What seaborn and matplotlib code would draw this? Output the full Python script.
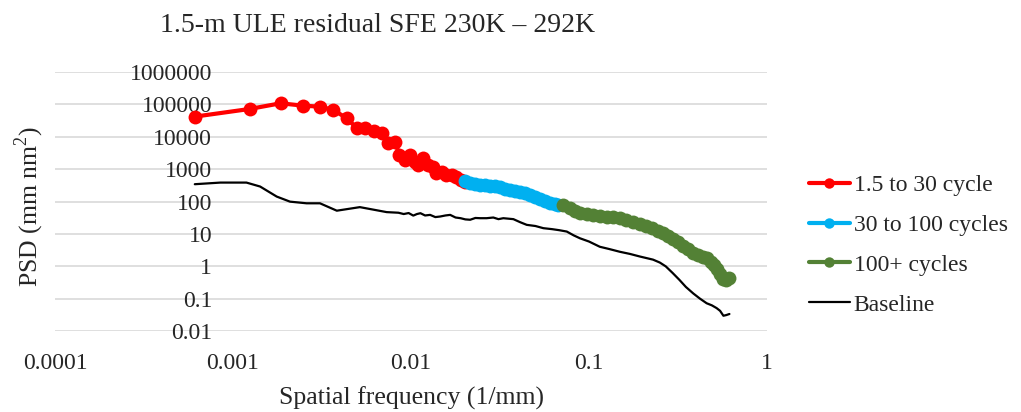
import numpy as np
import pandas as pd
import seaborn as sns
import matplotlib.pyplot as plt
from matplotlib.ticker import FixedLocator, NullLocator

# values (frequency in 1/mm, PSD in mm nm^2)
red_freq = [0.00061, 0.00124, 0.00185, 0.00248, 0.00308, 0.00366, 0.00436, 0.00496,
            0.00552, 0.0062, 0.00685, 0.00746, 0.00813, 0.0086, 0.00925, 0.00987,
            0.0105, 0.011, 0.0117, 0.0125, 0.0133, 0.0139, 0.0149, 0.0158, 0.0169,
            0.018, 0.0192, 0.0201]
red_psd = [41800, 72100, 108000, 91200, 85000, 67100, 37200, 18300,
           18300, 15500, 12800, 6300, 7100, 2750, 1920, 2750,
           1700, 1350, 2170, 1350, 1200, 750, 830, 660, 660,
           590, 465, 400]

blue_freq = [0.0201, 0.0214, 0.0229, 0.0244, 0.0261, 0.0278, 0.0296, 0.0316, 0.0337,
             0.036, 0.0384, 0.0409, 0.0437, 0.0467, 0.0498, 0.0531, 0.0566, 0.0604,
             0.0645, 0.067]
blue_psd = [417, 375, 349, 325, 314, 303, 292, 272, 245,
            220, 205, 191, 178, 160, 139, 120, 104, 90.6,
            81.3, 75.8]

green_freq = [0.0715, 0.0781, 0.0833, 0.0889, 0.0975, 0.105, 0.115, 0.126, 0.136,
              0.149, 0.161, 0.177, 0.194, 0.209, 0.226, 0.244, 0.261, 0.278, 0.296,
              0.316, 0.337, 0.36, 0.384, 0.409, 0.436, 0.46, 0.484, 0.504, 0.524,
              0.545, 0.566, 0.589, 0.612]
green_psd = [78.5, 63.4, 51.3, 44.5, 40, 37.2, 34.7, 33.5, 32.3,
             30.1, 27, 23.4, 20.4, 17.7, 15.3, 12.4, 10.4, 8.4, 6.8,
             5.5, 4.3, 3.3, 2.6, 2.2, 1.95, 1.75, 1.37, 1.07, 0.83,
             0.58, 0.41, 0.38, 0.44]

base_freq = [0.00061, 0.00085, 0.00119, 0.00142, 0.00176, 0.00209, 0.00259, 0.00308,
             0.00383, 0.00516, 0.0073, 0.0085, 0.0091, 0.0097, 0.0103, 0.0108, 0.0113,
             0.0120, 0.0128, 0.0137, 0.0146, 0.0156, 0.0166, 0.0178, 0.019, 0.0202,
             0.0215, 0.0230, 0.0245, 0.0266, 0.029, 0.031, 0.033, 0.0376, 0.041,
             0.0447, 0.050, 0.0554, 0.062, 0.068, 0.075, 0.082, 0.089, 0.100, 0.115,
             0.130, 0.149, 0.170, 0.193, 0.229, 0.25, 0.27, 0.295, 0.322, 0.35, 0.385,
             0.42, 0.458, 0.49, 0.521, 0.545, 0.569, 0.59, 0.615]
base_psd = [342, 384, 384, 290, 142, 99, 88, 88,
            52, 67, 47, 45, 41, 44, 36.7, 41, 43.5,
            37, 38.6, 33, 34.4, 37, 38.6, 32, 30.5, 28,
            27.3, 31, 30.5, 30.5, 32, 28.5, 30.5, 28.5, 23,
            19, 17.5, 15, 14, 13, 11.8, 9, 7.3, 5.8, 4.0,
            3.4, 2.8, 2.4, 2.0, 1.6, 1.3, 0.99, 0.62, 0.38, 0.23, 0.145,
            0.1, 0.072, 0.062, 0.051, 0.042, 0.0296, 0.031, 0.0335]

series_names = ["1.5 to 30 cycle", "30 to 100 cycles", "100+ cycles", "Baseline"]
series_colors = ["#ff0000", "#00b0f0", "#538135", "#000000"]

x_ticks = [0.0001, 0.001, 0.01, 0.1, 1]
x_labels = ["0.0001", "0.001", "0.01", "0.1", "1"]
y_ticks = [0.01, 0.1, 1, 10, 100, 1000, 10000, 100000, 1000000]
y_labels = ["0.01", "0.1", "1", "10", "100", "1000", "10000", "100000", "1000000"]

sns.set_style("white")
plt.rcParams['font.family'] = ['Liberation Serif', 'DejaVu Serif']
plt.rcParams['mathtext.fontset'] = 'custom'
plt.rcParams['mathtext.rm'] = 'Liberation Serif'

fig = plt.figure(figsize=(10.21, 4.12), dpi=100)
ax = fig.add_axes([55 / 1021, 81 / 412, 712 / 1021, 259 / 412])

data = [(red_freq, red_psd), (blue_freq, blue_psd), (green_freq, green_psd)]
for (fx, py), name, col in zip(data, series_names[:3], series_colors[:3]):
    df = pd.DataFrame({"f": fx, "psd": py})
    sns.lineplot(data=df, x="f", y="psd", ax=ax, color=col, linewidth=3,
                 marker="o", markersize=10, markeredgewidth=0, label=name,
                 sort=False, zorder=3)

df_base = pd.DataFrame({"f": base_freq, "psd": base_psd})
sns.lineplot(data=df_base, x="f", y="psd", ax=ax, color=series_colors[3],
             linewidth=1.6, label=series_names[3], sort=False, zorder=2)

ax.set_xscale("log")
ax.set_yscale("log")
ax.set_xlim(0.0001, 1)
ax.set_ylim(0.01, 1000000)
ax.xaxis.set_major_locator(FixedLocator(x_ticks))
ax.yaxis.set_major_locator(FixedLocator(y_ticks))
ax.xaxis.set_minor_locator(NullLocator())
ax.yaxis.set_minor_locator(NullLocator())
ax.set_xticklabels(x_labels)
ax.set_yticklabels(y_labels)

for s in ax.spines.values():
    s.set_visible(False)
# vertical axis crosses at 0.001 like the original
ax.spines['left'].set_position(('data', 0.001))
ax.tick_params(axis="y", length=0, pad=15, labelsize=17)
ax.tick_params(axis="x", length=0, pad=16, labelsize=17)

ax.grid(axis="y", color="#d9d9d9", linewidth=1.2)
ax.grid(axis="x", visible=False)

ax.set_xlabel("Spatial frequency (1/mm)", fontsize=18.5)
ax.set_ylabel("PSD (mm nm$^2$)", fontsize=18.5)
ax.xaxis.set_label_coords(0.5, -0.215)
ax.yaxis.set_label_coords(-0.012, 0.48)

fig.text(377 / 1021, 1 - 26 / 412, "1.5-m ULE residual SFE 230K \u2013 292K",
         ha="center", va="center", fontsize=20)

ax.get_legend().remove()
handles, labels = ax.get_legend_handles_labels()
fig.legend(handles, labels, loc="center left", bbox_to_anchor=(797 / 1021, 1 - 245 / 412),
           frameon=False, fontsize=17, handlelength=1.75, handletextpad=0.15,
           labelspacing=0.78, borderpad=0, markerscale=0.75)

fig.savefig("out.png", dpi=100)
